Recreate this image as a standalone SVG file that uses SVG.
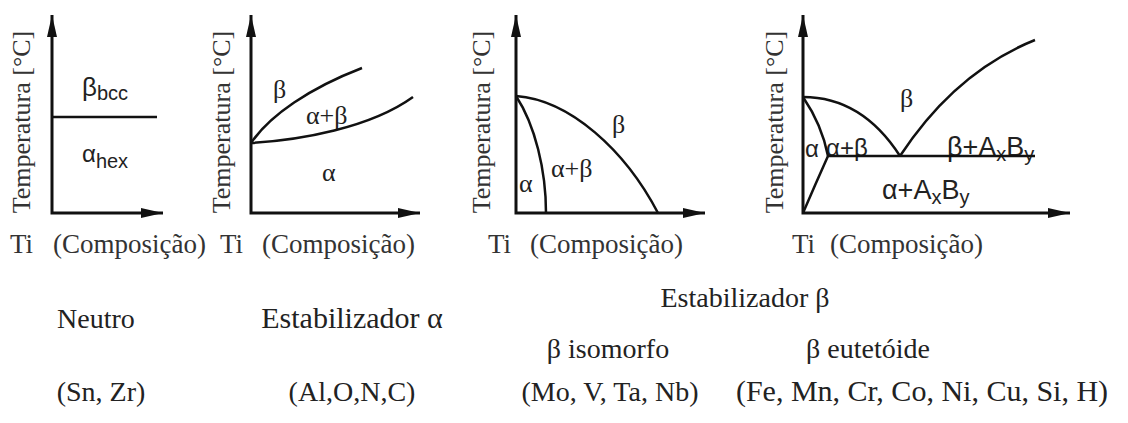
<svg xmlns="http://www.w3.org/2000/svg" width="1128" height="423" viewBox="0 0 1128 423">
<defs>
<marker id="arr" markerUnits="userSpaceOnUse" markerWidth="24" markerHeight="12" refX="22" refY="6" orient="auto-start-reverse" viewBox="0 0 24 12">
<path d="M0,1 L22,6 L0,11 z" fill="#111"/>
</marker>
<style>
.ax{fill:none;stroke:#111;stroke-width:3;marker-start:url(#arr);marker-end:url(#arr)}
.cv{fill:none;stroke:#111;stroke-width:2.5}
.t{font-family:"Liberation Serif","Times New Roman",serif;fill:#222}
.s{font-family:"Liberation Sans",Arial,sans-serif;fill:#222}
.yl{font-family:"Liberation Serif","Times New Roman",serif;fill:#333;font-size:26px}
.xl{font-family:"Liberation Serif","Times New Roman",serif;fill:#333;font-size:27px}
.b{font-family:"Liberation Serif","Times New Roman",serif;fill:#222;font-size:28px}
.b30{font-size:30px}
</style>
</defs>
<rect width="1128" height="423" fill="#fff"/>

<g id="panel-neutro">
<text class="yl" transform="translate(30,122) rotate(-90)" text-anchor="middle">Temperatura [°C]</text>
<text class="xl" x="10" y="253">Ti</text>
<text class="xl" x="53" y="253">(Composição)</text>
<text class="s" x="82" y="96" font-size="26">β<tspan font-size="20" dy="4">bcc</tspan></text>
<text class="s" x="82" y="162" font-size="24">α<tspan font-size="20" dy="6">hex</tspan></text>
</g>

<g id="panel-alfa">
<text class="yl" transform="translate(230,122) rotate(-90)" text-anchor="middle">Temperatura [°C]</text>
<text class="xl" x="220" y="253">Ti</text>
<text class="xl" x="262" y="253">(Composição)</text>
<text class="t" x="273" y="98" font-size="26">β</text>
<text class="t" x="306" y="124" font-size="26">α+β</text>
<text class="t" x="322" y="181" font-size="26">α</text>
</g>

<g id="panel-beta-iso">
<text class="yl" transform="translate(490,122) rotate(-90)" text-anchor="middle">Temperatura [°C]</text>
<text class="xl" x="488" y="253">Ti</text>
<text class="xl" x="530" y="253">(Composição)</text>
<text class="t" x="612" y="133" font-size="26">β</text>
<text class="t" x="551" y="177" font-size="26">α+β</text>
<text class="t" x="519" y="192" font-size="26">α</text>
</g>

<g id="panel-beta-eut">
<text class="yl" transform="translate(783,122) rotate(-90)" text-anchor="middle">Temperatura [°C]</text>
<text class="xl" x="792" y="253">Ti</text>
<text class="xl" x="830" y="253">(Composição)</text>
<text class="t" x="900" y="107" font-size="26">β</text>
<text class="s" x="826" y="156" font-size="24">α+β</text>
<text class="s" x="805" y="157" font-size="24">α</text>
<text class="s" x="947" y="156" font-size="27">β+A<tspan font-size="20" dy="5">x</tspan><tspan dy="-5">B</tspan><tspan font-size="20" dy="5">y</tspan></text>
<text class="s" x="882" y="199" font-size="27">α+A<tspan font-size="20" dy="5">x</tspan><tspan dy="-5">B</tspan><tspan font-size="20" dy="5">y</tspan></text>
</g>

<g id="captions">
<text class="b" x="96" y="328" text-anchor="middle">Neutro</text>
<text class="b b30" x="352" y="328" text-anchor="middle">Estabilizador α</text>
<text class="b" x="745" y="307" text-anchor="middle">Estabilizador β</text>
<text class="b" x="608" y="358" text-anchor="middle">β isomorfo</text>
<text class="b" x="868" y="358" text-anchor="middle">β eutetóide</text>
<text class="b" x="101" y="401" text-anchor="middle">(Sn, Zr)</text>
<text class="b" x="352" y="401" text-anchor="middle">(Al,O,N,C)</text>
<text class="b" x="610" y="401" text-anchor="middle">(Mo, V, Ta, Nb)</text>
<text class="b b30" x="922" y="401" text-anchor="middle">(Fe, Mn, Cr, Co, Ni, Cu, Si, H)</text>
</g>

<g id="connectors">
<path class="ax" d="M52,15 V213 H163"/>
<path class="cv" d="M52,117 H157"/>
<path class="ax" d="M251,15 V213 H420"/>
<path class="cv" d="M251,143 C270,115 310,88 362,68"/>
<path class="cv" d="M251,143 C300,140 370,128 413,97"/>
<path class="ax" d="M516,15 V213 H705"/>
<path class="cv" d="M516,96 C570,100 625,150 658,213"/>
<path class="cv" d="M516,96 C535,125 546,170 546,213"/>
<path class="ax" d="M803,15 V213 H1070"/>
<path class="cv" d="M803,97 C850,97 880,125 900,156"/>
<path class="cv" d="M900,156 C940,95 985,60 1035,40"/>
<path class="cv" d="M803,97 Q822,125 828,156"/>
<path class="cv" d="M828,156 Q815,185 803,213"/>
<path class="cv" d="M828,156 H1035"/>
</g>
</svg>
